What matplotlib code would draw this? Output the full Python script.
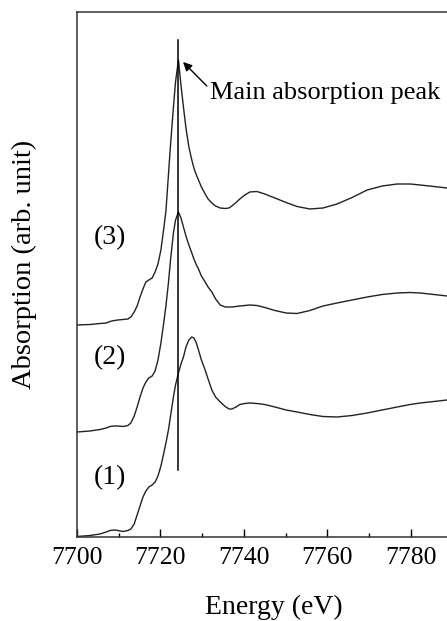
import matplotlib.pyplot as plt
from matplotlib.ticker import MultipleLocator

plt.rcParams["font.family"] = ["Liberation Serif", "DejaVu Serif"]

# energy grid (eV)
energy = [7700.0, 7703.1, 7705.5, 7707.0, 7707.9, 7708.9, 7709.8, 7711.0, 7712.2, 7712.9,
          7713.7, 7714.4, 7715.1, 7715.8, 7716.5, 7717.2, 7718.0, 7718.7, 7719.4, 7720.1,
          7720.8, 7721.3, 7721.9, 7722.4, 7723.1, 7723.6, 7724.3, 7724.9, 7725.5, 7726.1,
          7726.8, 7727.5, 7728.0, 7728.5, 7729.1, 7729.8, 7730.7, 7731.4, 7732.3, 7733.2,
          7734.3, 7735.5, 7736.4, 7737.1, 7738.1, 7739.0, 7740.2, 7741.4, 7743.1, 7745.0,
          7747.4, 7750.1, 7752.7, 7755.8, 7758.9, 7762.3, 7765.9, 7769.5, 7773.1, 7776.7,
          7779.8, 7782.2, 7785.5, 7788.6, 7795.0]

# absorption (arb. unit), curves stacked with offsets as in the picture
absorb_1 = [0.005, 0.015, 0.03, 0.05, 0.065, 0.07, 0.065, 0.055, 0.065, 0.08,
            0.13, 0.22, 0.31, 0.40, 0.46, 0.50, 0.52, 0.55, 0.61, 0.71,
            0.84, 0.94, 1.07, 1.21, 1.40, 1.52, 1.64, 1.73, 1.80, 1.90,
            1.97, 2.00, 1.99, 1.95, 1.87, 1.77, 1.67, 1.58, 1.47, 1.40,
            1.35, 1.305, 1.28, 1.28, 1.30, 1.325, 1.335, 1.34, 1.335, 1.325,
            1.30, 1.27, 1.25, 1.225, 1.205, 1.20, 1.215, 1.24, 1.27, 1.30,
            1.325, 1.34, 1.355, 1.37, 1.39]

absorb_2 = [1.05, 1.06, 1.075, 1.09, 1.105, 1.11, 1.11, 1.105, 1.115, 1.14,
            1.21, 1.30, 1.40, 1.49, 1.55, 1.59, 1.61, 1.66, 1.77, 1.94,
            2.15, 2.31, 2.54, 2.77, 3.04, 3.17, 3.25, 3.19, 3.10, 3.01,
            2.92, 2.84, 2.78, 2.73, 2.68, 2.61, 2.55, 2.50, 2.45, 2.38,
            2.32, 2.30, 2.30, 2.30, 2.305, 2.31, 2.315, 2.32, 2.315, 2.295,
            2.265, 2.24, 2.235, 2.265, 2.31, 2.34, 2.37, 2.40, 2.425, 2.44,
            2.445, 2.44, 2.425, 2.41, 2.40]

absorb_3 = [2.12, 2.125, 2.135, 2.14, 2.155, 2.165, 2.17, 2.175, 2.18, 2.20,
            2.25, 2.31, 2.40, 2.48, 2.55, 2.57, 2.59, 2.65, 2.73, 2.87,
            3.09, 3.26, 3.62, 3.92, 4.30, 4.55, 4.77, 4.52, 4.30, 4.09,
            3.90, 3.77, 3.69, 3.63, 3.57, 3.50, 3.43, 3.38, 3.34, 3.31,
            3.29, 3.285, 3.29, 3.31, 3.345, 3.38, 3.42, 3.45, 3.455, 3.43,
            3.39, 3.345, 3.305, 3.28, 3.29, 3.33, 3.395, 3.47, 3.51, 3.53,
            3.53, 3.52, 3.505, 3.49, 3.47]

peak_energy = 7724.3
peak_line = [0.67, 4.97]
curve_labels = ["(1)", "(2)", "(3)"]
label_heights = [0.59, 1.79, 2.99]

fig = plt.figure(figsize=(4.47, 6.21), dpi=100)
ax = fig.add_axes([77 / 447, 84 / 621, 396.6 / 447, 525 / 621])

col = "#222222"
for a in [absorb_1, absorb_2, absorb_3]:
    ax.plot(energy, a, color=col, lw=1.0, solid_joinstyle="round")

ax.plot([peak_energy, peak_energy], peak_line, color="black", lw=1.1)

for lab, h in zip(curve_labels, label_heights):
    ax.text(7707.8, h, lab, fontsize=20, ha="center", va="center")

# arrow to the main peak, then its label
ax.annotate("", xy=(7725.4, 4.75), xytext=(7731.1, 4.51),
            arrowprops=dict(arrowstyle="-|>", color="black", lw=1.0,
                            mutation_scale=13, shrinkA=0, shrinkB=0))
ax.text(7731.9, 4.445, "Main absorption peak", fontsize=19, ha="left", va="center")

ax.set_xlim(7700, 7795)
ax.set_ylim(0, 5.25)
ax.xaxis.set_major_locator(MultipleLocator(20))
ax.xaxis.set_minor_locator(MultipleLocator(10))
ax.tick_params(axis="x", which="major", direction="in", length=5.5, width=1.0,
               labelsize=18.5, pad=7, top=False)
ax.tick_params(axis="x", which="minor", direction="in", length=3, width=1.0, top=False)
ax.set_yticks([])
for s in ax.spines.values():
    s.set_linewidth(1.1)
    s.set_color("#333333")

ax.set_xlabel("Energy (eV)", fontsize=20)
ax.set_ylabel("Absorption (arb. unit)", fontsize=20.5)
ax.xaxis.set_label_coords((274 - 77) / 396.6, (537 - 607) / 525)
ax.yaxis.set_label_coords((24 - 77) / 396.6, (537 - 264) / 525)
ax.xaxis.label.set_va("center")
ax.yaxis.label.set_va("center")

plt.savefig("out.png", dpi=100)
